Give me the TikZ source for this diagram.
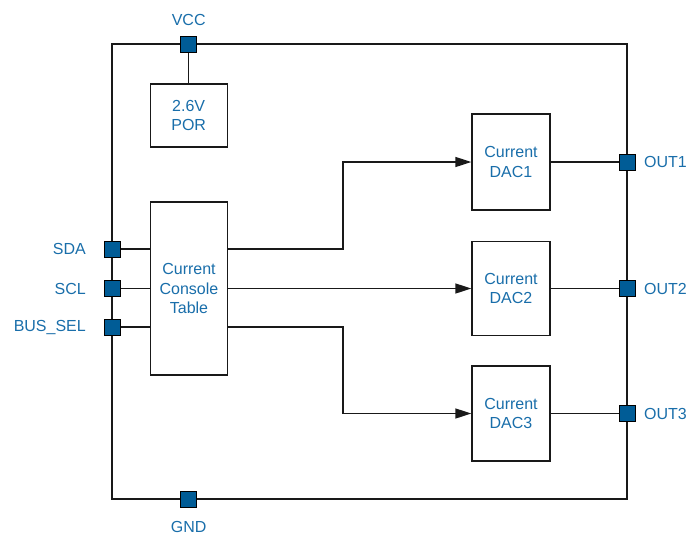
\documentclass[tikz,border=0pt]{standalone}
\usepackage{fontspec}
\setmainfont{Liberation Sans}
\usetikzlibrary{arrows.meta,backgrounds}
\definecolor{txtblue}{RGB}{25,110,170}
\definecolor{pinblue}{RGB}{0,92,150}
\definecolor{wire}{RGB}{25,25,25}
\begin{document}
\begin{tikzpicture}[x=1pt,y=-1pt,
  lbl/.style={text=txtblue,font=\fontsize{16}{19.5}\selectfont,inner sep=0pt},
  blk/.style={draw=wire,line width=1.3pt,fill=white,align=center,text=txtblue,
    font=\fontsize{16}{19.5}\selectfont,inner sep=0pt},
  pin/.style={draw=black,fill=pinblue,line width=1pt,minimum size=16pt,inner sep=0pt},
  wireln/.style={draw=wire,line width=1.3pt},
  arr/.style={wireln,-{Triangle[length=16pt,width=10pt]}}]
\useasboundingbox (0,0) rectangle (688,536);
% corners
\coordinate (tl) at (112,44);
\coordinate (tr) at (627,44);
\coordinate (br) at (627,499);
\coordinate (bl) at (112,499);
% blocks
\node[blk,minimum width=77pt,minimum height=63pt] (por) at (188.7,115.5) {2.6V\\POR};
\node[blk,minimum width=77pt,minimum height=173pt] (tbl) at (189,288.5) {Current\\Console\\Table};
\node[blk,minimum width=78pt,minimum height=96pt] (dac1) at (511,162) {Current\\DAC1};
\node[blk,minimum width=78pt,minimum height=94pt] (dac2) at (511,288.5) {Current\\DAC2};
\node[blk,minimum width=78pt,minimum height=95pt] (dac3) at (511,413.5) {Current\\DAC3};
% pins
\node[pin] (vcc) at (188.7,44) {};
\node[pin] (gnd) at (188.7,499) {};
\node[pin] (sda) at (112,249) {};
\node[pin] (scl) at (112,288.5) {};
\node[pin] (bus) at (112,327) {};
\node[pin] (out1) at (627,162) {};
\node[pin] (out2) at (627,288.5) {};
\node[pin] (out3) at (627,413.5) {};
% labels
\node[lbl] (vccl) at (188.7,20) {VCC};
\node[lbl] (gndl) at (188.7,527) {GND};
\node[lbl,anchor=east] (sdal) at (86,249) {SDA};
\node[lbl,anchor=east] (scll) at (86,288.5) {SCL};
\node[lbl,anchor=east] (busl) at (86,327) {BUS\_SEL};
\node[lbl,anchor=west] (out1l) at (644,162) {OUT1};
\node[lbl,anchor=west] (out2l) at (644,288.5) {OUT2};
\node[lbl,anchor=west] (out3l) at (644,413.5) {OUT3};
\begin{scope}[on background layer]
\draw[wireln] (tl) -- (tr) -- (br) -- (bl) -- cycle;
\draw[wireln] (vcc) -- (por.north);
\draw[wireln] (sda) -- (sda -| tbl.west);
\draw[wireln] (scl) -- (scl -| tbl.west);
\draw[wireln] (bus) -- (bus -| tbl.west);
\draw[arr] (sda -| tbl.east) -- (343,249) |- (dac1.west);
\draw[arr] (scl -| tbl.east) -- (dac2.west);
\draw[arr] (bus -| tbl.east) -- (343,327) |- (dac3.west);
\draw[wireln] (dac1.east) -- (out1);
\draw[wireln] (dac2.east) -- (out2);
\draw[wireln] (dac3.east) -- (out3);
\end{scope}
\end{tikzpicture}
\end{document}
